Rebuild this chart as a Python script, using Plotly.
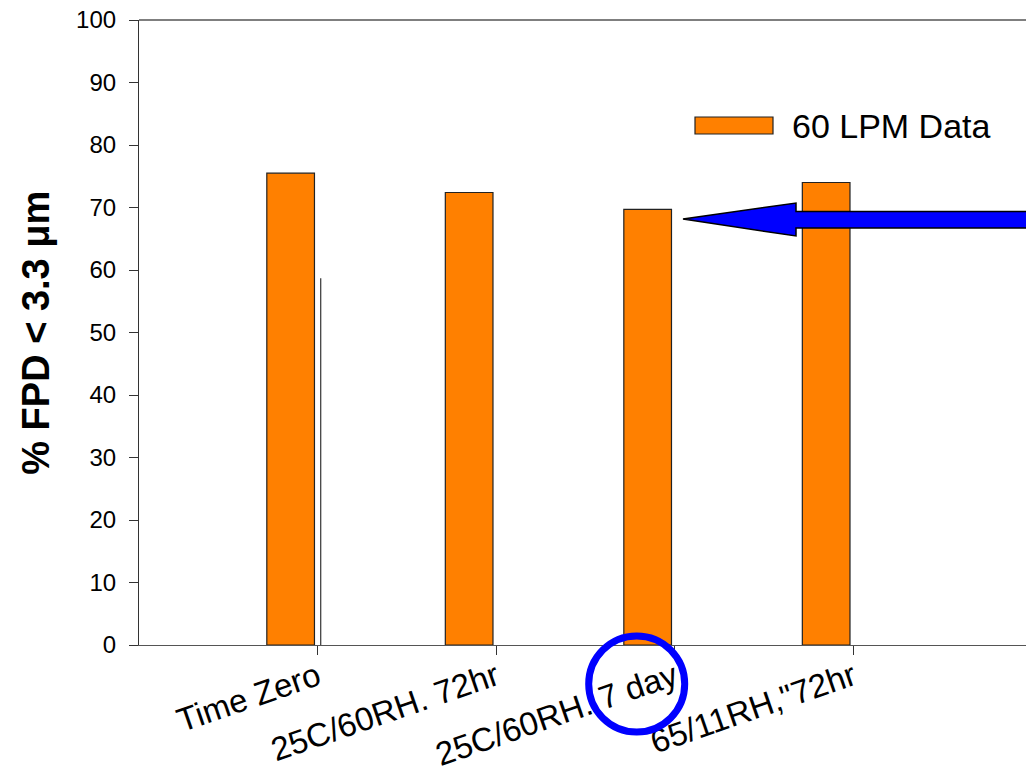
import plotly.graph_objects as go

categories = ["Time Zero", "25C/60RH. 72hr", "25C/60RH. 7 day", "65/11RH,\"72hr"]
positions = [1, 2, 3, 4]
fpd_values = [75.5, 72.4, 69.7, 74.0]
series_name = "60 LPM Data"
stray_line_value = 58.7
y_ticks = [0, 10, 20, 30, 40, 50, 60, 70, 80, 90, 100]

FONT = "Liberation Sans, Arial, sans-serif"
ORANGE = "#FF8000"

fig = go.Figure()
fig.add_trace(go.Bar(
    x=positions, y=fpd_values, name=series_name,
    width=0.267, offset=-0.284,
    marker=dict(color=ORANGE, line=dict(color="#222222", width=1.2)),
    showlegend=False,
))
fig.add_trace(go.Scatter(
    x=[positions[0] + 0.018, positions[0] + 0.018], y=[0, stray_line_value],
    mode="lines", line=dict(color="#333333", width=1.2), showlegend=False,
    hoverinfo="skip",
))

fig.update_layout(
    width=1026, height=777,
    margin=dict(l=139, r=0, t=20, b=132),
    paper_bgcolor="white", plot_bgcolor="white",
    font=dict(family=FONT, color="black"),
    xaxis=dict(
        range=[0, 4.969], tickmode="array", tickvals=positions, ticktext=categories,
        tickangle=-19, ticks="outside", ticklen=9, tickcolor="#333333",
        tickfont=dict(size=33, family=FONT, color="black"),
        ticklabelstandoff=-10,
        showline=True, linecolor="#555555", linewidth=1.2, mirror=False,
        showgrid=False, zeroline=False, automargin=False,
    ),
    yaxis=dict(
        range=[0, 100], tickmode="array", tickvals=y_ticks,
        ticks="outside", ticklen=9, tickcolor="#333333",
        tickfont=dict(size=24, family=FONT, color="black"),
        ticklabelstandoff=8,
        showline=True, linecolor="#333333", linewidth=1.2,
        showgrid=False, zeroline=False, automargin=False,
    ),
)

# top border line
fig.add_shape(type="line", xref="paper", yref="paper", x0=0, x1=1, y0=1, y1=1,
              line=dict(color="black", width=1.2))

# y axis title
fig.add_annotation(xref="paper", yref="paper", x=-0.117, y=0.5, showarrow=False,
                   text="<b>% FPD < 3.3 μm</b>", textangle=-90,
                   font=dict(size=38, family=FONT, color="black"),
                   xanchor="center", yanchor="middle")

# legend (custom)
def px_x(p):
    return (p - 139) / 887.0

def px_y(p):
    return (645 - p) / 625.0

fig.add_shape(type="rect", xref="paper", yref="paper",
              x0=px_x(695), x1=px_x(773), y0=px_y(134), y1=px_y(117),
              fillcolor=ORANGE, line=dict(color="#222222", width=1.2))
fig.add_annotation(xref="paper", yref="paper", x=px_x(790), y=px_y(126), showarrow=False,
                   text=series_name, xanchor="left", yanchor="middle",
                   font=dict(size=34, family=FONT, color="black"))

# blue arrow pointing at the 7-day bar
arrow_path = "M {} {} L {} {} L {} {} L {} {} L {} {} L {} {} L {} {} Z".format(
    px_x(683), px_y(219),
    px_x(796), px_y(203),
    px_x(796), px_y(211.5),
    px_x(1030), px_y(211.5),
    px_x(1030), px_y(228),
    px_x(796), px_y(228),
    px_x(796), px_y(236),
)
fig.add_shape(type="path", xref="paper", yref="paper", path=arrow_path,
              fillcolor="#0000FF", line=dict(color="black", width=1.5), layer="above")

# blue circle around "7 day"
cx, cy, r = 636.7, 684, 48
fig.add_shape(type="circle", xref="paper", yref="paper",
              x0=px_x(cx - r), x1=px_x(cx + r), y0=px_y(cy + r), y1=px_y(cy - r),
              line=dict(color="#0000FF", width=7), fillcolor="rgba(0,0,0,0)", layer="above")

fig.write_html("out.html")
